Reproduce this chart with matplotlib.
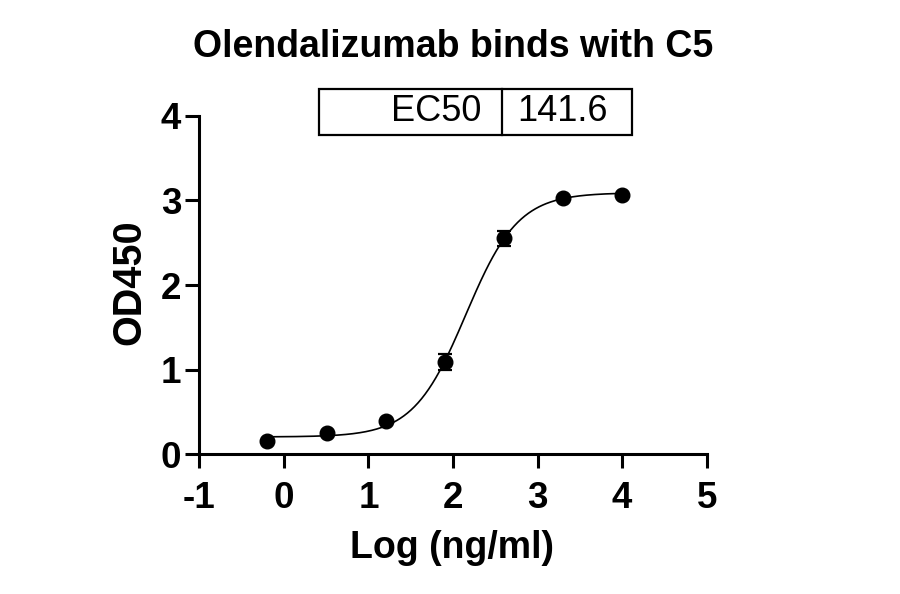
import numpy as np
import matplotlib
matplotlib.use("Agg")
import matplotlib.pyplot as plt
from matplotlib.patches import Rectangle
from matplotlib.lines import Line2D

plt.rcParams['font.family'] = ['Liberation Sans', 'DejaVu Sans']
plt.rcParams['axes.unicode_minus'] = False

# Data
log_conc = [-0.194, 0.505, 1.204, 1.903, 2.602, 3.301, 4.0]
od450 = [0.157, 0.248, 0.397, 1.090, 2.552, 3.031, 3.067]
od_err = [0.0, 0.0, 0.0, 0.098, 0.088, 0.0, 0.0]
# 4PL fit parameters
fit_bottom = 0.205
fit_top = 3.09
ec50 = 141.6
hill = 1.4
x_ticks = [-1, 0, 1, 2, 3, 4, 5]
y_ticks = [0, 1, 2, 3, 4]

fig = plt.figure(figsize=(9, 5.94), dpi=100)
ax = fig.add_axes([0.2214, 0.2352, 0.5638, 0.5700])

xf = np.linspace(min(log_conc), max(log_conc), 300)
yf = fit_bottom + (fit_top - fit_bottom) / (1 + 10 ** ((np.log10(ec50) - xf) * hill))
ax.plot(xf, yf, color='black', lw=1.2, zorder=2)
ax.errorbar(log_conc, od450, yerr=od_err, fmt='o', color='black', ms=10.5,
            ecolor='black', elinewidth=1.6, capsize=5, capthick=1.6, zorder=3,
            clip_on=False)

ax.set_xlim(-1, 5)
ax.set_ylim(0, 4)
ax.set_xticks(x_ticks)
ax.set_yticks(y_ticks)
for s in ['top', 'right']:
    ax.spines[s].set_visible(False)
for s in ['left', 'bottom']:
    ax.spines[s].set_linewidth(2.2)
ax.tick_params(axis='both', width=2.2, length=10, labelsize=26.5)
ax.tick_params(axis='x', pad=9)
ax.tick_params(axis='y', pad=3)
for lab in ax.get_xticklabels() + ax.get_yticklabels():
    lab.set_fontweight('bold')

fig.text(0.503, 0.921, 'Olendalizumab binds with C5', ha='center', va='center',
         fontsize=27, fontweight='bold')
fig.text(0.502, 0.077, 'Log (ng/ml)', ha='center', va='center',
         fontsize=27, fontweight='bold')
fig.text(129 / 900, 1 - 282 / 594, 'OD450', ha='center', va='center', rotation=90,
         fontsize=28.5, fontweight='bold')

# EC50 table
tx0, tw, ty0, th = 0.236, 0.616, 0.943, 0.136
div = tx0 + tw * 0.584
ax.add_patch(Rectangle((tx0, ty0), tw, th, transform=ax.transAxes, fill=False,
                       lw=1.6, edgecolor='black', clip_on=False))
ax.add_line(Line2D([div, div], [ty0, ty0 + th], transform=ax.transAxes,
                   color='black', lw=1.6, clip_on=False))
ax.text(div - 0.04, ty0 + th / 2, 'EC50', transform=ax.transAxes, ha='right',
        va='center', fontsize=26)
ax.text(div + 0.03, ty0 + th / 2, f'{ec50}', transform=ax.transAxes, ha='left',
        va='center', fontsize=26)

fig.savefig('out.png', dpi=100)
